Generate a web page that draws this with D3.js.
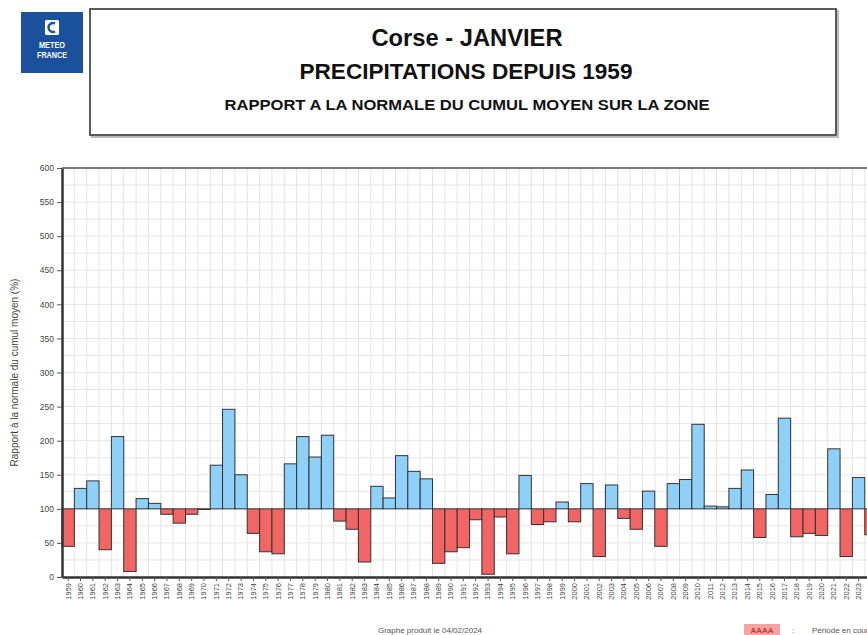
<!DOCTYPE html>
<html>
<head>
<meta charset="utf-8">
<script src="https://cdn.jsdelivr.net/npm/d3@7"></script>
<style>
  body { margin: 0; background: #fff; }
  svg { display: block; font-family: "Liberation Sans", Arial, sans-serif; }
</style>
</head>
<body>
<div id="chart"></div>
<script>
// Données : rapport à la normale (%) pour chaque mois de janvier
const annees = d3.range(1959, 2025).map(String);
const rapports = [
  45, 130, 141, 40, 206, 8, 115, 108, 92, 79,
  92, 99, 164, 246, 150, 64, 37, 34, 166, 206,
  176, 208, 82, 70, 22, 133, 116, 178, 155, 144,
  20, 37, 43, 84, 4, 88, 34, 149, 77, 81,
  110, 81, 137, 30, 135, 86, 70, 126, 45, 137,
  143, 224, 104, 103, 130, 157, 58, 121, 233, 59,
  64, 61, 188, 30, 146, 62
];
const yTicks = [0, 50, 100, 150, 200, 250, 300, 350, 400, 450, 500, 550, 600];
const yGrid = d3.range(0, 601, 25);

const width = 867, height = 635;
const plotLeft = 62, plotTop = 168, plotBottom = 577;
const pas = 12.35;

const svg = d3.select("#chart").append("svg")
  .attr("width", width)
  .attr("height", height);

// Logo
const logo = svg.append("g");
logo.append("rect").attr("x", 21).attr("y", 12).attr("width", 62).attr("height", 61).attr("fill", "#1b519c");
logo.append("rect").attr("x", 45).attr("y", 20).attr("width", 14).attr("height", 15).attr("rx", 1.5).attr("fill", "#fff");
logo.append("path").attr("d", "M55,23.5 A4.5,4.5 0 1 0 55,31.5").attr("fill", "none").attr("stroke", "#1b519c").attr("stroke-width", 2.4);
logo.append("text").attr("x", 52).attr("y", 48).attr("text-anchor", "middle")
  .attr("font-size", 8.5).attr("font-weight", "bold").attr("fill", "#fff")
  .attr("textLength", 26).attr("lengthAdjust", "spacingAndGlyphs").text("METEO");
logo.append("text").attr("x", 52).attr("y", 58).attr("text-anchor", "middle")
  .attr("font-size", 8.5).attr("font-weight", "bold").attr("fill", "#fff")
  .attr("textLength", 30).attr("lengthAdjust", "spacingAndGlyphs").text("FRANCE");

// Cadre du titre
svg.append("rect").attr("x", 92).attr("y", 11).attr("width", 746).attr("height", 126)
  .attr("fill", "none").attr("stroke", "#bbb").attr("stroke-width", 2);
svg.append("rect").attr("x", 90).attr("y", 9).attr("width", 746).attr("height", 126)
  .attr("fill", "#fff").attr("stroke", "#333").attr("stroke-width", 1.6);

svg.append("text").attr("x", 467).attr("y", 46).attr("text-anchor", "middle")
  .attr("font-size", 23).attr("font-weight", 600).attr("fill", "#111")
  .attr("textLength", 191).attr("lengthAdjust", "spacingAndGlyphs").text("Corse - JANVIER");
svg.append("text").attr("x", 466).attr("y", 79).attr("text-anchor", "middle")
  .attr("font-size", 22).attr("font-weight", 600).attr("fill", "#111")
  .attr("textLength", 333).attr("lengthAdjust", "spacingAndGlyphs").text("PRECIPITATIONS DEPUIS 1959");
svg.append("text").attr("x", 467).attr("y", 110).attr("text-anchor", "middle")
  .attr("font-size", 14).attr("font-weight", "bold").attr("fill", "#111")
  .attr("textLength", 485).attr("lengthAdjust", "spacingAndGlyphs").text("RAPPORT A LA NORMALE DU CUMUL MOYEN SUR LA ZONE");

// Echelles
const x = d3.scaleBand()
  .domain(annees)
  .range([plotLeft, plotLeft + annees.length * pas])
  .padding(0);

const y = d3.scaleLinear()
  .domain([0, 600])
  .range([plotBottom, plotTop]);

// Grille
svg.append("g").selectAll("line").data(yGrid).join("line")
  .attr("x1", plotLeft).attr("x2", width)
  .attr("y1", d => y(d)).attr("y2", d => y(d))
  .attr("stroke", "#e4e4e4").attr("stroke-width", 1);
svg.append("g").selectAll("line").data(annees).join("line")
  .attr("x1", d => x(d) + x.bandwidth()).attr("x2", d => x(d) + x.bandwidth())
  .attr("y1", plotTop).attr("y2", plotBottom)
  .attr("stroke", "#e4e4e4").attr("stroke-width", 1);

// Barres autour de la normale (100 %)
svg.append("g").selectAll("rect").data(rapports).join("rect")
  .attr("x", (d, i) => x(annees[i]))
  .attr("width", x.bandwidth())
  .attr("y", d => Math.min(y(d), y(100)))
  .attr("height", d => Math.abs(y(d) - y(100)))
  .attr("fill", d => d >= 100 ? "#8fd0f9" : "#f26565")
  .attr("stroke", "#333")
  .attr("stroke-width", 1);

// Axes
const axeY = svg.append("g")
  .attr("transform", `translate(${plotLeft},0)`)
  .call(d3.axisLeft(y).tickValues(yTicks).tickSize(5).tickSizeOuter(0));
axeY.select(".domain").attr("stroke", "#333").attr("stroke-width", 2.5);
axeY.selectAll(".tick line").attr("stroke", "#555");
axeY.selectAll(".tick text").attr("font-size", 8.5).attr("fill", "#444").attr("x", -8)
  .attr("font-family", "Liberation Sans, Arial, sans-serif");

const axeX = svg.append("g")
  .attr("transform", `translate(0,${plotBottom})`)
  .call(d3.axisBottom(x).tickSize(4).tickSizeOuter(0));
axeX.select(".domain").attr("stroke", "#333").attr("stroke-width", 2.5);
axeX.selectAll(".tick line").attr("stroke", "#555");
axeX.selectAll(".tick text")
  .attr("font-size", 7.5).attr("fill", "#444")
  .attr("font-family", "Liberation Sans, Arial, sans-serif")
  .attr("transform", "rotate(-90)")
  .attr("text-anchor", "end")
  .attr("x", -6).attr("y", 0).attr("dy", "0.32em");

// Bord supérieur du graphique
svg.append("line").attr("x1", plotLeft).attr("x2", width).attr("y1", plotTop).attr("y2", plotTop)
  .attr("stroke", "#555").attr("stroke-width", 1.5);

// Titre de l'axe Y
svg.append("text")
  .attr("transform", `translate(18,${(plotTop + plotBottom) / 2}) rotate(-90)`)
  .attr("text-anchor", "middle")
  .attr("font-size", 10).attr("fill", "#444")
  .text("Rapport à la normale du cumul moyen (%)");

// Pied de page
svg.append("text").attr("x", 430).attr("y", 633).attr("text-anchor", "middle")
  .attr("font-size", 8).attr("fill", "#555").text("Graphe produit le 04/02/2024");
svg.append("rect").attr("x", 744).attr("y", 624).attr("width", 36).attr("height", 11).attr("fill", "#f5a3a3");
svg.append("text").attr("x", 762).attr("y", 633).attr("text-anchor", "middle")
  .attr("font-size", 8).attr("fill", "#c33").attr("font-weight", "bold").text("AAAA");
svg.append("text").attr("x", 792).attr("y", 633)
  .attr("font-size", 8).attr("fill", "#555").text(":");
svg.append("text").attr("x", 812).attr("y", 633)
  .attr("font-size", 8).attr("fill", "#555").text("Période en cours");
</script>
</body>
</html>
